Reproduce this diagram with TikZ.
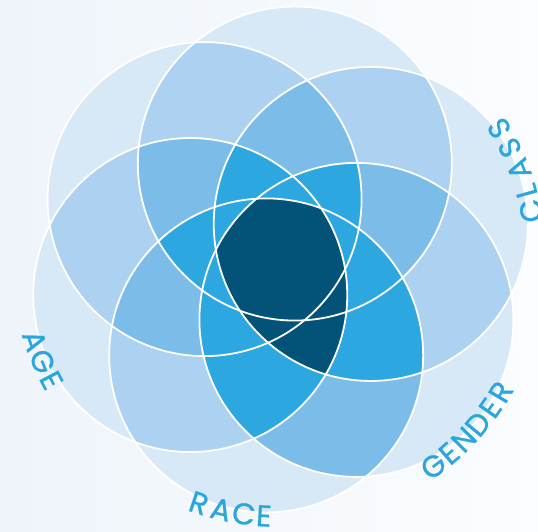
\documentclass[tikz,border=0pt]{standalone}
\usepackage{fontspec}
\setmainfont{Poppins}
\newfontfamily\tagfont{Poppins}[FakeBold=0.8]
\usepackage{tikz}
\usetikzlibrary{calc}
\definecolor{bgleft}{HTML}{EEF4FA}
\definecolor{bgright}{HTML}{FBFDFF}
\definecolor{tintA}{HTML}{D7E8F7}
\definecolor{tintB}{HTML}{ADD1F0}
\definecolor{tintC}{HTML}{7BBCE8}
\definecolor{tintD}{HTML}{2CA7DF}
\definecolor{tintE}{HTML}{035277}
\definecolor{labelblue}{HTML}{2AA5DE}

\begin{document}
\begin{tikzpicture}[
    x=1pt, y=1pt,
    rim/.style={draw=white, line width=1.8pt},
    lbl/.style={font=\tagfont\fontsize{30}{32}\selectfont, text=labelblue, inner sep=0pt, anchor=center}
  ]
  \def\rad{157}
  % --- Canvas ---
  \useasboundingbox (0,0) rectangle (538,532);
  \shade[left color=bgleft, right color=bgright] (0,0) rectangle (538,532);

  % --- Circle centres: 0 class, 1 top, 2 top-left, 3 age, 4 race, 5 gender ---
  \coordinate (O) at (280.5,272.5);
  \foreach \k in {0,...,5}
    \coordinate (c\k) at ($(O)+({21.5+60*\k}:97)$);

  % --- One circle ---
  \foreach \k in {0,...,5}
    \fill[tintA] (c\k) circle (\rad);

  % --- Two circles ---
  \foreach \i in {0,...,4} {
    \pgfmathtruncatemacro\ja{\i+1}
    \foreach \j in {\ja,...,5} {
      \begin{scope}
        \clip (c\i) circle (\rad);
        \fill[tintB] (c\j) circle (\rad);
      \end{scope}
    }
  }

  % --- Three circles ---
  \foreach \i in {0,...,3} {
    \pgfmathtruncatemacro\ja{\i+1}
    \foreach \j in {\ja,...,4} {
      \pgfmathtruncatemacro\ka{\j+1}
      \foreach \k in {\ka,...,5} {
        \begin{scope}
          \clip (c\i) circle (\rad);
          \clip (c\j) circle (\rad);
          \fill[tintC] (c\k) circle (\rad);
        \end{scope}
      }
    }
  }
  % race and gender overlap one step darker
  \begin{scope}
    \clip (c4) circle (\rad);
    \fill[tintC] (c5) circle (\rad);
  \end{scope}

  % --- Four circles ---
  \foreach \i in {0,...,2} {
    \pgfmathtruncatemacro\ja{\i+1}
    \foreach \j in {\ja,...,3} {
      \pgfmathtruncatemacro\ka{\j+1}
      \foreach \k in {\ka,...,4} {
        \pgfmathtruncatemacro\la{\k+1}
        \foreach \l in {\la,...,5} {
          \begin{scope}
            \clip (c\i) circle (\rad);
            \clip (c\j) circle (\rad);
            \clip (c\k) circle (\rad);
            \fill[tintD] (c\l) circle (\rad);
          \end{scope}
        }
      }
    }
  }
  \foreach \k in {0,...,3} {
    \begin{scope}
      \clip (c4) circle (\rad);
      \clip (c5) circle (\rad);
      \fill[tintD] (c\k) circle (\rad);
    \end{scope}
  }

  % --- Class, age, race and gender together ---
  \begin{scope}
    \clip (c0) circle (\rad);
    \clip (c3) circle (\rad);
    \clip (c4) circle (\rad);
    \fill[tintE] (c5) circle (\rad);
  \end{scope}

  % --- White rims ---
  \foreach \k in {0,...,5}
    \draw[rim] (c\k) circle (\rad);

  % --- Labels ---
  \foreach \ch/\a [count=\n] in {C/11, L/15.6, A/20.8, S/26, S/31}
    \node[lbl, rotate=\a+90] (class\n) at ($(O)+(\a:255)$) {\ch};
  \foreach \ch/\a [count=\n] in {G/-53.5, E/-49, N/-44.5, D/-39.8, E/-35.3, R/-31}
    \node[lbl, rotate=\a+90] (gender\n) at ($(O)+(\a:257)$) {\ch};
  \foreach \ch/\a [count=\n] in {R/251.5, A/256.6, C/261.8, E/266.3}
    \node[lbl, rotate=\a+90] (race\n) at ($(O)+(\a:257)$) {\ch};
  \foreach \ch/\a [count=\n] in {A/198.3, G/203.2, E/207.8}
    \node[lbl, rotate=\a+90] (age\n) at ($(O)+(\a:259)$) {\ch};
\end{tikzpicture}
\end{document}
